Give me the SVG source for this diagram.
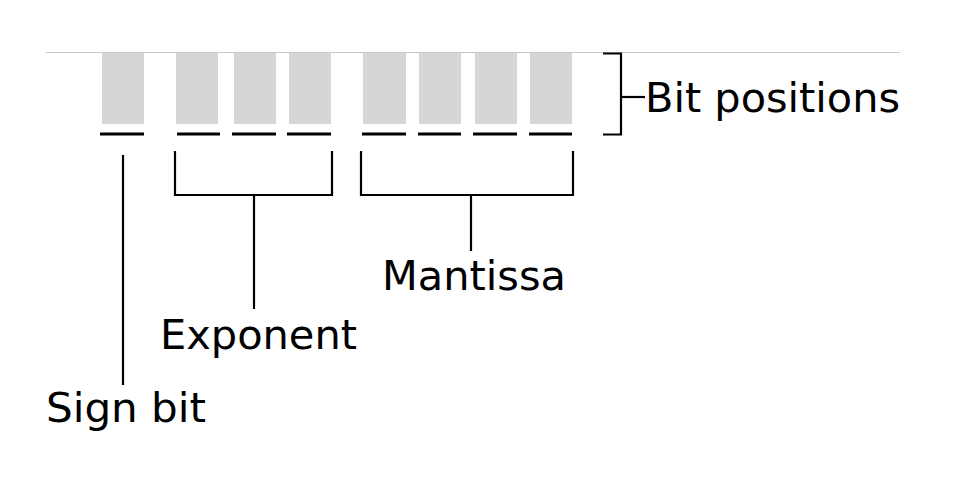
<svg xmlns="http://www.w3.org/2000/svg" width="967" height="489" viewBox="0 0 967 489">
<style>
.bit{fill:#d6d6d6}
.dash{stroke:#000;stroke-width:3;fill:none}
.ln{stroke:#000;stroke-width:2.2;fill:none}
.lbl{font-family:"DejaVu Sans","Liberation Sans",sans-serif;font-size:41px;fill:#000}
</style>
<rect width="967" height="489" fill="#fff"/>
<line x1="46" y1="52.5" x2="900" y2="52.5" stroke="#c8c8c8" stroke-width="1.2"/>
<g id="sign">
<rect class="bit" x="102" y="53" width="42" height="71"/>
<line class="dash" x1="100" y1="134" x2="144" y2="134"/>
</g>
<g id="exponent-bits">
<rect class="bit" x="176" y="53" width="42" height="71"/>
<rect class="bit" x="234" y="53" width="42" height="71"/>
<rect class="bit" x="289" y="53" width="42" height="71"/>
<line class="dash" x1="177" y1="134" x2="220" y2="134"/>
<line class="dash" x1="232" y1="134" x2="276" y2="134"/>
<line class="dash" x1="287" y1="134" x2="331" y2="134"/>
</g>
<g id="mantissa-bits">
<rect class="bit" x="363" y="53" width="43" height="71"/>
<rect class="bit" x="419" y="53" width="42" height="71"/>
<rect class="bit" x="475" y="53" width="42" height="71"/>
<rect class="bit" x="530" y="53" width="42" height="71"/>
<line class="dash" x1="362" y1="134" x2="406" y2="134"/>
<line class="dash" x1="418" y1="134" x2="461" y2="134"/>
<line class="dash" x1="473" y1="134" x2="517" y2="134"/>
<line class="dash" x1="529" y1="134" x2="572" y2="134"/>
</g>
<g id="connectors">
<line class="ln" x1="123" y1="155" x2="123" y2="385"/>
<polyline class="ln" points="175,151 175,195 332,195 332,151"/>
<line class="ln" x1="254" y1="195" x2="254" y2="309"/>
<polyline class="ln" points="361,151 361,195 573,195 573,151"/>
<line class="ln" x1="471" y1="195" x2="471" y2="251"/>
<polyline class="ln" points="603,53.5 621,53.5 621,134.5 603,134.5"/>
<line class="ln" x1="621" y1="97" x2="645" y2="97"/>
</g>
<g id="labels">
<text class="lbl" x="645" y="112" textLength="255" lengthAdjust="spacingAndGlyphs">Bit positions</text>
<text class="lbl" x="382" y="290" textLength="184" lengthAdjust="spacingAndGlyphs">Mantissa</text>
<text class="lbl" x="160" y="349" textLength="197" lengthAdjust="spacingAndGlyphs">Exponent</text>
<text class="lbl" x="46" y="422" textLength="160" lengthAdjust="spacingAndGlyphs">Sign bit</text>
</g>
</svg>
